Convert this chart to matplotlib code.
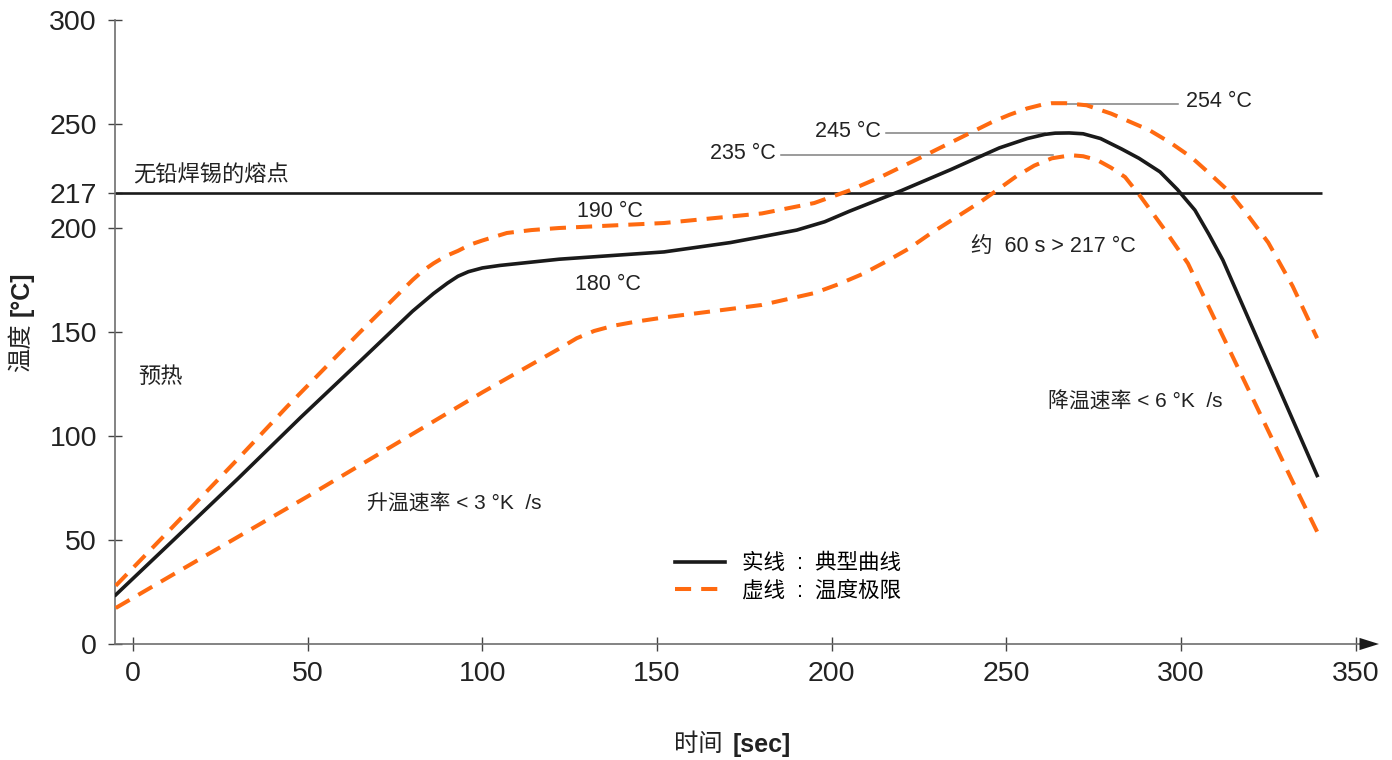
import matplotlib
matplotlib.use('Agg')
import matplotlib.pyplot as plt

plt.rcParams['font.family'] = ['Liberation Sans', 'Noto Sans CJK SC', 'DejaVu Sans']

# typical profile (solid)
typ_t = [-5, 10, 30, 48, 65, 80, 86, 90, 93, 96, 100, 105, 122, 152, 171, 180, 190, 198, 205,
         220, 234, 248, 256, 261, 264, 268, 272, 277, 283, 288, 294, 299, 304, 308, 312, 339]
typ_v = [23.6, 47.5, 79.5, 109, 136, 160, 168.5, 173.5, 176.8, 179, 180.8, 182, 185, 188.5, 193,
         195.8, 199, 203, 208, 218, 228, 238.5, 243, 245, 245.6, 245.7, 245.3, 243, 238, 233.5,
         227, 218.5, 208.6, 197, 184.6, 81]

# upper limit (dashed)
hi_t = [-5, 10, 30, 44, 65, 80, 83, 86, 89.5, 93, 96.5, 100, 107, 114, 122, 152, 180, 195, 205,
        214, 225, 234, 246, 251, 256, 260, 263, 267, 273, 280, 291, 297, 303, 308, 313.5, 319,
        325, 332, 339]
hi_v = [28, 54, 89, 114, 150, 175, 179.5, 183, 186.5, 189, 192, 194, 197.6, 199, 200, 202.4, 207,
        212, 218, 224.5, 233.5, 241, 251, 254.5, 257.5, 259.2, 260, 260, 259, 255, 247, 241, 234,
        226.5, 218, 206.5, 193, 172, 147]

# lower limit (dashed)
lo_t = [-5, 10, 30, 50, 64, 88, 100, 122, 127, 132, 137.5, 144, 152, 180, 195, 202, 209,
        215.5, 222, 228, 243, 253, 258, 263, 268.5, 272, 276, 280, 284, 288.5, 295, 302, 314,
        332, 339]
lo_v = [17.3, 32, 51.5, 71, 85, 109, 121, 142, 147, 150.5, 153, 155, 157, 163, 168.7, 173, 178,
        183.8, 190, 197, 213, 225, 230, 233.5, 235, 234.5, 232.7, 229, 224.5, 215, 200, 183, 141,
        78, 54]

melt_temp = 217
yticks = [0, 50, 100, 150, 200, 217, 250, 300]
xticks = [0, 50, 100, 150, 200, 250, 300, 350]

# peak marker lines: (level, x start, x end)
peak_lines = [(245.7, 215.5, 261), (235.1, 185.4, 263.3), (259.6, 264.3, 299.3)]

BLACK = '#1a1a1a'
ORANGE = '#ff6a10'
GREY = '#6e6e6e'
TXT = '#222222'

fig = plt.figure(figsize=(13.92, 7.6), dpi=100)
ax = fig.add_axes([115/1392, 116/760, 1265/1392, 624/760])
ax.set_xlim(-5.2, 357)
ax.set_ylim(0, 300)

ax.plot([-5.2, 340.5], [melt_temp, melt_temp], color=BLACK, lw=1.9, solid_capstyle='butt',
        clip_on=False, zorder=2)

for lev, x0, x1 in peak_lines:
    ax.plot([x0, x1], [lev, lev], color='#808080', lw=1.1, zorder=1)

l_typ, = ax.plot(typ_t, typ_v, color=BLACK, lw=2.6, zorder=4)
l_hi, = ax.plot(hi_t, hi_v, color=ORANGE, lw=2.9, dashes=(4, 2.5), zorder=3)
ax.plot(lo_t, lo_v, color=ORANGE, lw=2.9, dashes=(4, 2.5), zorder=3)

for s in ['top', 'right']:
    ax.spines[s].set_visible(False)
for s in ['left', 'bottom']:
    ax.spines[s].set_color(GREY)
    ax.spines[s].set_linewidth(1.2)
ax.spines['bottom'].set_bounds(-5.2, 352)
ax.annotate('', xy=(357.5, 0), xytext=(349, 0), annotation_clip=False,
            arrowprops=dict(arrowstyle='-|>,head_length=0.7,head_width=0.22',
                            mutation_scale=20, color=BLACK, lw=0))

ax.set_xticks(xticks)
ax.set_yticks(yticks)
ax.tick_params(axis='both', direction='inout', length=10, width=1, color='#444444',
               labelsize=20.5, labelcolor=TXT)
ax.tick_params(axis='y', pad=8)
ax.tick_params(axis='x', pad=7)

fs = 15.5
ax.text(0, 222.6, '无铅焊锡的熔点', fontsize=16, color=TXT)
ax.text(1.4, 125.5, '预热', fontsize=16, color=TXT)
ax.text(127.2, 205.3, '190 °C', fontsize=fs, color=TXT)
ax.text(126.6, 170.2, '180 °C', fontsize=fs, color=TXT)
ax.text(239.8, 188.5, '约  60 s > 217 °C', fontsize=fs, color=TXT)
ax.text(214, 243.8, '245 °C', fontsize=fs, color=TXT, ha='right')
ax.text(184, 233.2, '235 °C', fontsize=fs, color=TXT, ha='right')
ax.text(301.4, 258, '254 °C', fontsize=fs, color=TXT)
ax.text(261.9, 113.5, '降温速率 < 6 °K  /s', fontsize=15, color=TXT)
ax.text(67, 65, '升温速率 < 3 °K  /s', fontsize=15, color=TXT)

ax.legend([l_typ, l_hi], ['实线  :  典型曲线', '虚线  :  温度极限'], loc='center left',
          bbox_to_anchor=(0.4427, 0.1066), frameon=False, fontsize=15.5,
          handlelength=2.3, handletextpad=0.8, borderpad=0, borderaxespad=0,
          labelspacing=0.3)

fig.text(722/1392, 1-745/760, '时间', fontsize=17.5, color=TXT, ha='right', va='center')
fig.text(733/1392, 1-745/760, '[sec]', fontsize=18, color=TXT, ha='left', va='center',
         weight='bold')
fig.text(22/1392, 1-372/760, '温度', fontsize=17.5, color=TXT, rotation=90,
         ha='center', va='bottom')
fig.text(22/1392, 1-316/760, '[°C]', fontsize=18, color=TXT, rotation=90,
         ha='center', va='bottom', weight='bold')

fig.savefig('out.png', dpi=100)
